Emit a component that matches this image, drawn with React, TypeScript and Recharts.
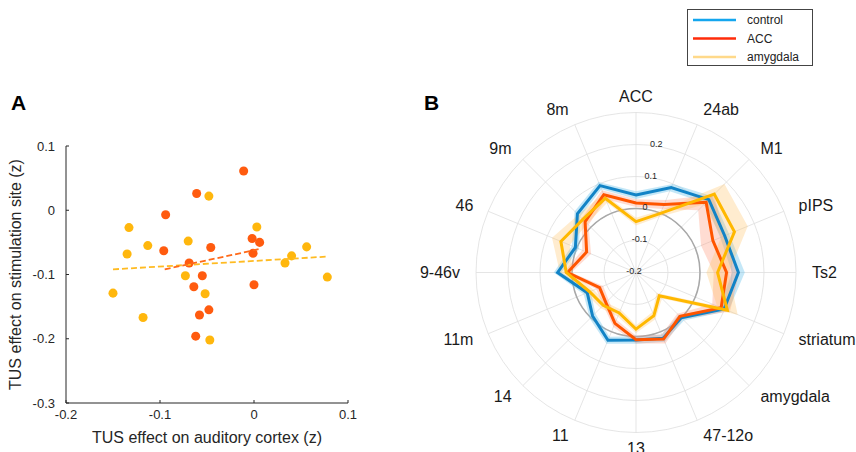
import React from "react";
import {
  ScatterChart,
  Scatter,
  XAxis,
  YAxis,
  ZAxis,
  RadarChart,
  Radar,
  PolarGrid,
  PolarAngleAxis,
  PolarRadiusAxis,
  Legend,
} from "recharts";

const FONT = "'Liberation Sans', Arial, Helvetica, sans-serif";

// panel A: TUS effect on auditory cortex (x) vs stimulation site (y)
const accAuditory = [-0.011, -0.061, -0.094, -0.096, -0.069, -0.046, -0.002, 0.006, -0.001, -0.055, -0.064, 0.0, -0.048, -0.058, -0.062];
const accSite = [0.061, 0.026, -0.007, -0.063, -0.082, -0.058, -0.044, -0.05, -0.067, -0.102, -0.119, -0.116, -0.155, -0.163, -0.196];
const amygAuditory = [-0.048, -0.133, 0.003, -0.07, -0.113, -0.135, 0.056, 0.04, 0.033, -0.073, 0.078, -0.15, -0.052, -0.118, -0.047];
const amygSite = [0.022, -0.027, -0.026, -0.048, -0.055, -0.068, -0.057, -0.071, -0.082, -0.102, -0.104, -0.129, -0.13, -0.167, -0.202];

// regression line end points
const accFitX = [-0.095, 0.007];
const accFitY = [-0.092, -0.06];
const amygFitX = [-0.15, 0.079];
const amygFitY = [-0.092, -0.072];

const xTicks = [-0.2, -0.1, 0, 0.1];
const yTicks = [-0.3, -0.2, -0.1, 0, 0.1];

// panel B: radar of regional effects
const regions = ["ACC", "24ab", "M1", "pIPS", "Ts2", "striatum", "amygdala", "47-12o", "13", "11", "14", "11m", "9-46v", "46", "9m", "8m"];
const controlMean = [0.042, 0.087, 0.122, 0.1, 0.12, 0.098, 0.0, 0.022, 0.011, 0.029, -0.008, -0.035, 0.045, 0.005, 0.059, 0.094];
const controlSem = [0.012, 0.012, 0.015, 0.015, 0.02, 0.015, 0.012, 0.012, 0.012, 0.012, 0.012, 0.012, 0.012, 0.012, 0.012, 0.012];
const accMean = [0.017, 0.03, 0.11, 0.06, 0.083, 0.088, -0.006, 0.025, 0.01, -0.028, -0.067, -0.077, 0.014, -0.033, 0.025, 0.063];
const accSem = [0.012, 0.015, 0.035, 0.04, 0.04, 0.03, 0.012, 0.015, 0.012, 0.012, 0.012, 0.012, 0.012, 0.015, 0.015, 0.015];
const amygMean = [-0.041, 0.0, 0.146, 0.133, 0.055, 0.109, -0.097, -0.054, -0.023, -0.063, -0.055, -0.043, 0.018, 0.054, 0.035, 0.051];
const amygSem = [0.012, 0.012, 0.045, 0.045, 0.035, 0.035, 0.012, 0.012, 0.012, 0.012, 0.012, 0.015, 0.02, 0.03, 0.02, 0.015];

const rTicks = [-0.2, -0.1, 0, 0.1, 0.2, 0.3];
const rMin = -0.2;
const rMax = 0.3;
const outerR = 160;

const legendItems = [
  { name: "control", color: "#14a6ee" },
  { name: "ACC", color: "#ff2b0a" },
  { name: "amygdala", color: "#ffd98a" },
];

const toPoints = (xs: number[], ys: number[]) => xs.map((x, i) => ({ x, y: ys[i] }));

const band = (m: number[], s: number[], i: number) => [m[i] - s[i], m[i] + s[i]];

const radarData = regions.map((region, i) => ({
  region,
  control: controlMean[i],
  acc: accMean[i],
  amyg: amygMean[i],
  controlBand: band(controlMean, controlSem, i),
  accBand: band(accMean, accSem, i),
  amygBand: band(amygMean, amygSem, i),
}));

const noShape = () => <g />;

function AngleTick(p: any) {
  return (
    <text x={p.x} y={p.y} textAnchor={p.textAnchor} dominantBaseline="central" fontSize={16} fill="#1a1a1a" fontFamily={FONT}>
      {p.payload.value}
    </text>
  );
}

function RadiusTick(p: any) {
  if (p.payload.value === 0.3) return <g />;
  return (
    <text x={p.x - 2} y={p.y - 2} textAnchor="middle" dominantBaseline="central" fontSize={9} fill="#262626" fontFamily={FONT}>
      {p.payload.value}
    </text>
  );
}

function LegendBox() {
  return (
    <svg width={127} height={58} style={{ display: "block" }}>
      <rect x={0.5} y={0.5} width={125} height={56} fill="#fff" stroke="#444" strokeWidth={1} />
      {legendItems.map((it, i) => (
        <g key={it.name}>
          <line x1={6} x2={49} y1={11 + i * 18.5} y2={11 + i * 18.5} stroke={it.color} strokeWidth={2.6} />
          <text x={60} y={11 + i * 18.5} dominantBaseline="central" fontSize={12} fill="#222" fontFamily={FONT}>
            {it.name}
          </text>
        </g>
      ))}
    </svg>
  );
}

export default function App() {
  const zeroR = (outerR * (0 - rMin)) / (rMax - rMin);
  return (
    <div style={{ position: "absolute", left: 0, top: 0, width: 856, height: 452, background: "#fff", fontFamily: FONT }}>
      <svg width={856} height={452} style={{ position: "absolute", left: 0, top: 0 }}>
        <text x={11} y={110} fontSize={21} fontWeight="bold" fontFamily={FONT} fill="#000">A</text>
        <text x={424} y={110} fontSize={21} fontWeight="bold" fontFamily={FONT} fill="#000">B</text>
      </svg>

      <div style={{ position: "absolute", left: 0, top: 0 }}>
        <ScatterChart width={370} height={452} margin={{ top: 146, right: 22, bottom: 0, left: 10 }}>
          <XAxis
            type="number"
            dataKey="x"
            domain={[-0.2, 0.1]}
            ticks={xTicks}
            height={49}
            tickSize={-3}
            tickMargin={10}
            stroke="#262626"
            tick={{ fill: "#262626", fontSize: 13, fontFamily: FONT }}
            label={{ value: "TUS effect on auditory cortex (z)", position: "center", dy: 10, fill: "#262626", fontSize: 16, fontFamily: FONT }}
          />
          <YAxis
            type="number"
            dataKey="y"
            domain={[-0.3, 0.1]}
            ticks={yTicks}
            width={56}
            tickSize={-3}
            tickMargin={14}
            stroke="#262626"
            tick={{ fill: "#262626", fontSize: 13, fontFamily: FONT }}
            label={{ value: "TUS effect on stimulation site (z)", angle: -90, position: "center", dx: -23, fill: "#262626", fontSize: 16, fontFamily: FONT }}
          />
          <ZAxis range={[36, 36]} />
          <Scatter data={toPoints(amygAuditory, amygSite)} fill="#ffb70d" isAnimationActive={false} />
          <Scatter data={toPoints(accAuditory, accSite)} fill="#ff5b0f" isAnimationActive={false} />
          <Scatter
            data={toPoints(amygFitX, amygFitY)}
            line={{ stroke: "#ffbb22", strokeWidth: 1.8, strokeDasharray: "6 3" }}
            shape={noShape}
            isAnimationActive={false}
          />
          <Scatter
            data={toPoints(accFitX, accFitY)}
            line={{ stroke: "#ff6a1a", strokeWidth: 1.8, strokeDasharray: "6 3" }}
            shape={noShape}
            isAnimationActive={false}
          />
        </ScatterChart>
      </div>

      <div style={{ position: "absolute", left: 400, top: 0 }}>
        <RadarChart
          width={456}
          height={452}
          data={radarData}
          cx={236}
          cy={272.5}
          outerRadius={outerR}
          margin={{ top: 0, right: 0, bottom: 0, left: 0 }}
        >
          <PolarGrid gridType="circle" stroke="#dedede" strokeWidth={0.8} />
          <PolarGrid gridType="circle" radialLines={false} polarRadius={[zeroR]} stroke="#a8a8a8" strokeWidth={1.5} />
          <PolarAngleAxis dataKey="region" tick={AngleTick} tickLine={false} axisLine={false} tickSize={16} />
          <PolarRadiusAxis
            type="number"
            domain={[rMin, rMax]}
            ticks={rTicks}
            tickCount={6}
            angle={80}
            axisLine={false}
            tickLine={false}
            tick={RadiusTick}
          />
          <Radar dataKey="controlBand" stroke="none" fill="#6cc4ec" fillOpacity={0.4} isAnimationActive={false} />
          <Radar dataKey="accBand" stroke="none" fill="#ff8a6a" fillOpacity={0.3} isAnimationActive={false} />
          <Radar dataKey="amygBand" stroke="none" fill="#ffc060" fillOpacity={0.3} isAnimationActive={false} />
          <Radar dataKey="control" stroke="#1283c6" strokeWidth={3} fill="none" dot={false} isAnimationActive={false} />
          <Radar dataKey="acc" stroke="#ff5500" strokeWidth={3} fill="none" dot={false} isAnimationActive={false} />
          <Radar dataKey="amyg" stroke="#ffb800" strokeWidth={3} fill="none" dot={false} isAnimationActive={false} />
          <Legend content={LegendBox} wrapperStyle={{ position: "absolute", left: 287, top: 9, width: "auto" }} />
        </RadarChart>
      </div>
    </div>
  );
}
